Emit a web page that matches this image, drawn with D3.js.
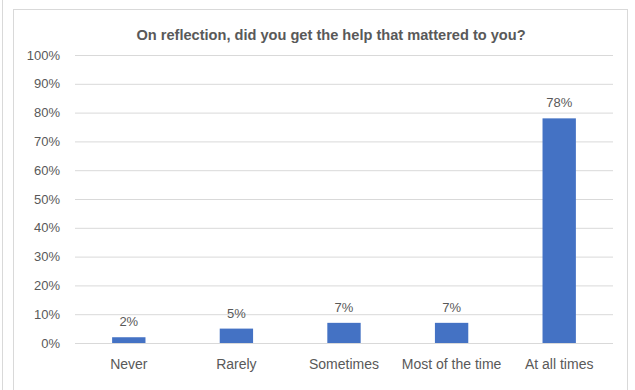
<!DOCTYPE html>
<html>
<head>
<meta charset="utf-8">
<script src="https://cdn.jsdelivr.net/npm/d3@7"></script>
<style>
  html, body { margin: 0; padding: 0; background: #ffffff; }
  svg { display: block; }
  text { font-family: "Liberation Sans", Arial, sans-serif; fill: #595959; }
</style>
</head>
<body>
<svg id="chart" width="635" height="390"></svg>
<script>
// Survey answers and their shares
const categories = ["Never", "Rarely", "Sometimes", "Most of the time", "At all times"];
const shares = [0.02, 0.05, 0.07, 0.07, 0.78];
const yTicks = [0, 0.1, 0.2, 0.3, 0.4, 0.5, 0.6, 0.7, 0.8, 0.9, 1.0];
const title = "On reflection, did you get the help that mattered to you?";

const svg = d3.select("#chart");
const W = 635, H = 390;

// Frame: outer strip line and the chart area border
svg.append("line")
  .attr("x1", 2.5).attr("x2", 2.5).attr("y1", 0).attr("y2", H)
  .attr("stroke", "#d9d9d9").attr("stroke-width", 1);
svg.append("rect")
  .attr("x", 13.5).attr("y", 9.5).attr("width", 614).attr("height", 390)
  .attr("fill", "none").attr("stroke", "#d9d9d9").attr("stroke-width", 1);

const plot = { left: 75, right: 613, top: 55, bottom: 343 };

const x = d3.scaleBand()
  .domain(categories)
  .range([plot.left, plot.right])
  .paddingInner(0.69)
  .paddingOuter(0.345);

const y = d3.scaleLinear()
  .domain([0, 1])
  .range([plot.bottom, plot.top]);

// Horizontal gridlines with percentage labels
const yAxis = d3.axisLeft(y)
  .tickValues(yTicks)
  .tickFormat(d3.format(".0%"))
  .tickSize(-(plot.right - plot.left))
  .tickPadding(15);

const gy = svg.append("g")
  .attr("transform", `translate(${plot.left},0)`)
  .call(yAxis);
gy.select(".domain").remove();
gy.selectAll(".tick line").attr("stroke", "#d9d9d9").attr("stroke-width", 1);
gy.selectAll(".tick text")
  .attr("font-size", 13)
  .style("fill", "#595959")
  .attr("font-family", "Liberation Sans, Arial, sans-serif");

// Bars
svg.append("g").selectAll("rect")
  .data(shares)
  .join("rect")
  .attr("x", (d, i) => x(categories[i]))
  .attr("width", x.bandwidth())
  .attr("y", d => y(d))
  .attr("height", d => y(0) - y(d))
  .attr("fill", "#4472C4");

// Value labels above bars
svg.append("g").selectAll("text")
  .data(shares)
  .join("text")
  .attr("x", (d, i) => x(categories[i]) + x.bandwidth() / 2)
  .attr("y", d => y(d) - 11)
  .attr("text-anchor", "middle")
  .attr("font-size", 13)
  .text(d3.format(".0%"));

// Category axis labels
const xAxis = d3.axisBottom(x).tickSize(0).tickPadding(16);
const gx = svg.append("g")
  .attr("transform", `translate(0,${plot.bottom})`)
  .call(xAxis);
gx.select(".domain").remove();
gx.selectAll(".tick text")
  .attr("font-size", 14)
  .style("fill", "#595959")
  .attr("font-family", "Liberation Sans, Arial, sans-serif");

// Title
svg.append("text")
  .attr("x", 331)
  .attr("y", 40)
  .attr("text-anchor", "middle")
  .attr("font-size", 14.6)
  .attr("font-weight", "bold")
  .text(title);
</script>
</body>
</html>
